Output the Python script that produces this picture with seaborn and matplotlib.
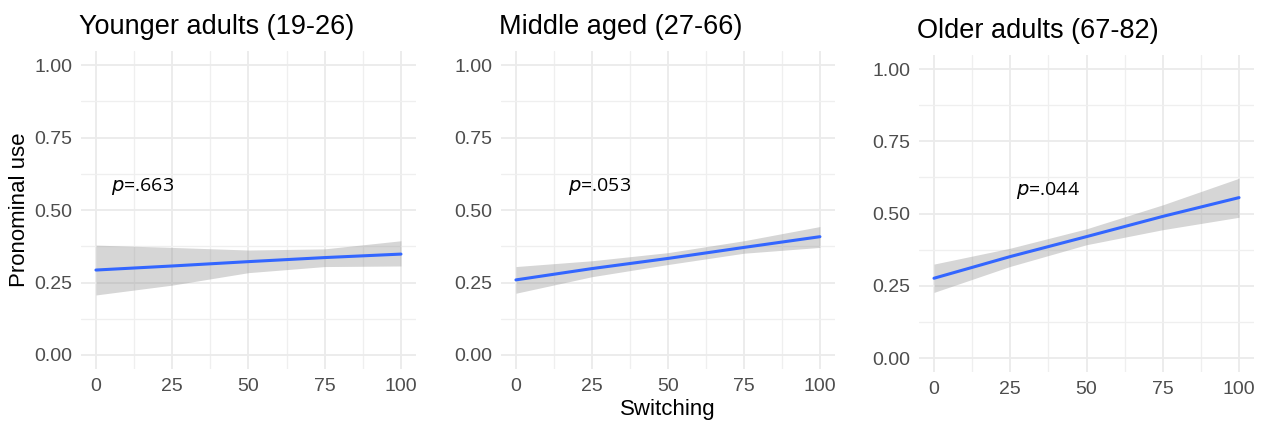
import numpy as np
import pandas as pd
import matplotlib
matplotlib.use("Agg")
import matplotlib.pyplot as plt
import seaborn as sns

# group titles and p-values
groups = ["Younger adults (19-26)", "Middle aged (27-66)", "Older adults (67-82)"]
p_labels = [".663", ".053", ".044"]
p_x = [5, 17, 27]
p_y = [0.58, 0.58, 0.58]

# switching positions where the fit was read
switching = [0, 25, 50, 75, 100]

# fitted pronominal use and confidence band per group
fit_young = [0.293, 0.307, 0.322, 0.336, 0.348]
lo_young = [0.207, 0.241, 0.284, 0.305, 0.307]
hi_young = [0.379, 0.371, 0.362, 0.366, 0.394]

fit_middle = [0.259, 0.298, 0.333, 0.371, 0.408]
lo_middle = [0.213, 0.270, 0.312, 0.351, 0.371]
hi_middle = [0.305, 0.325, 0.353, 0.394, 0.443]

fit_older = [0.276, 0.351, 0.420, 0.490, 0.555]
lo_older = [0.227, 0.317, 0.392, 0.444, 0.487]
hi_older = [0.325, 0.380, 0.447, 0.530, 0.622]

fits = [fit_young, fit_middle, fit_older]
los = [lo_young, lo_middle, lo_older]
his = [hi_young, hi_middle, hi_older]

sns.set_theme(style="white")
plt.rcParams["font.family"] = ["Liberation Sans", "DejaVu Sans"]

fig = plt.figure(figsize=(12.69, 4.23), dpi=100)
boxes = [
    [0.0636, 0.1265, 0.2644, 0.754],
    [0.3946, 0.1265, 0.2635, 0.754],
    [0.7240, 0.1195, 0.2644, 0.7515],
]

for i, box in enumerate(boxes):
    ax = fig.add_axes(box)
    df = pd.DataFrame({"Switching": switching, "fit": fits[i], "lo": los[i], "hi": his[i]})

    ax.fill_between(df["Switching"], df["lo"], df["hi"], color="#999999", alpha=0.4, linewidth=0, zorder=2)
    sns.lineplot(data=df, x="Switching", y="fit", ax=ax, color="#3366FF", linewidth=2.2, zorder=3)

    ax.set_xlim(-5, 105)
    ax.set_ylim(-0.05, 1.05)
    ax.set_xticks([0, 25, 50, 75, 100])
    ax.set_xticks([12.5, 37.5, 62.5, 87.5], minor=True)
    ax.set_yticks([0, 0.25, 0.5, 0.75, 1.0])
    ax.set_yticks([0.125, 0.375, 0.625, 0.875], minor=True)
    ax.set_yticklabels(["0.00", "0.25", "0.50", "0.75", "1.00"])
    ax.grid(which="major", color="#EBEBEB", linewidth=1.3, zorder=0)
    ax.grid(which="minor", color="#EFEFEF", linewidth=0.9, zorder=0)
    ax.set_axisbelow(True)
    for s in ax.spines.values():
        s.set_visible(False)
    ax.tick_params(which="both", length=0, labelsize=14, labelcolor="#4D4D4D", pad=6)

    ax.set_xlabel("Switching" if i == 1 else "", fontsize=16, color="black", labelpad=3)
    ax.set_ylabel("Pronominal use" if i == 0 else "", fontsize=16, color="black", labelpad=3)
    ax.set_title(groups[i], loc="left", fontsize=19.5, color="black", pad=12, x=-0.005)

    ax.text(p_x[i], p_y[i], r"$\it{p}$=" + p_labels[i], fontsize=14, color="black",
            family=["Open Sans", "DejaVu Sans"], ha="left", va="center", zorder=4)

fig.savefig("out.png", dpi=100)
